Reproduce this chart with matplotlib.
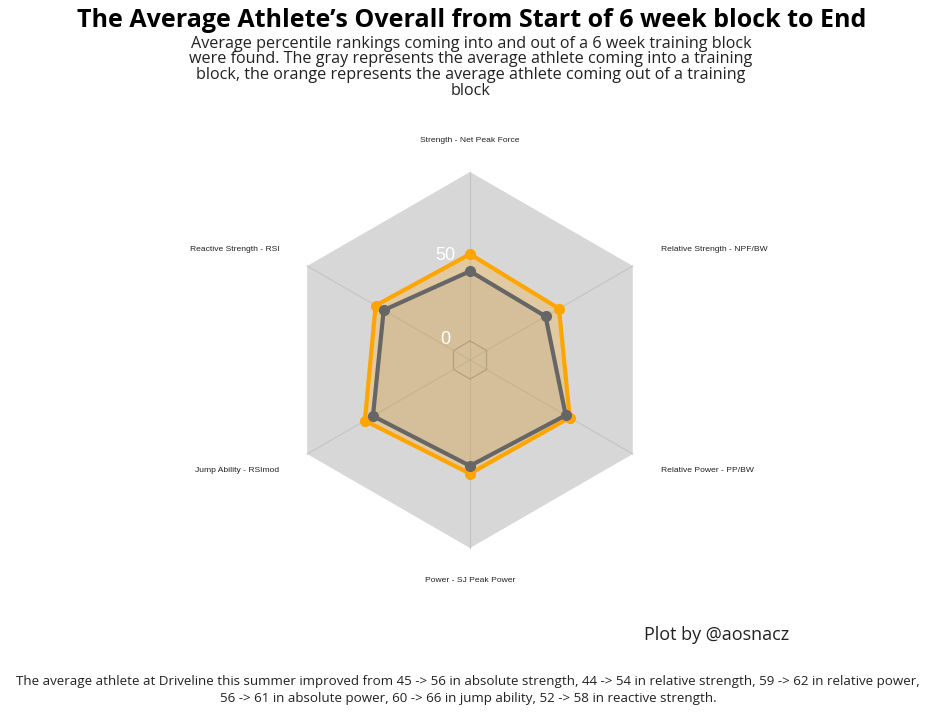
import matplotlib.pyplot as plt
import numpy as np

# data (percentiles)
categories = ['Strength - Net Peak Force', 'Relative Strength - NPF/BW',
              'Relative Power - PP/BW', 'Power - SJ Peak Power',
              'Jump Ability - RSImod', 'Reactive Strength - RSI']
before = [45, 44, 59, 56, 60, 52]
after = [56, 54, 62, 61, 66, 58]
grid_values = [0, 50]
grid_labels = ['0', '50']

# radar geometry (values shifted so 0 sits off-centre like ggradar)
offset = 12.3
outer = 109
s = 1.55  # px per unit
W, H = 938, 716
cx, cy = 470, 360

n = len(categories)
theta = np.arange(n) * 2 * np.pi / n


def to_xy(vals):
    r = np.asarray(vals, dtype=float) + offset
    x = r * np.sin(theta)
    y = r * np.cos(theta)
    return np.append(x, x[0]), np.append(y, y[0])


fig = plt.figure(figsize=(W / 100, H / 100), dpi=100)
ax = fig.add_axes([0, 0, 1, 1])
ax.set_xlim(-cx / s, (W - cx) / s)
ax.set_ylim(-(H - cy) / s, cy / s)
ax.set_aspect('equal')
ax.axis('off')

# background hexagon
bx, by = to_xy([outer] * n)
ax.fill(bx, by, color='#D7D7D7', zorder=1, lw=0)

# spokes
for t in theta:
    r = outer + offset
    ax.plot([0, r * np.sin(t)], [0, r * np.cos(t)], color='#C4C4C4', lw=0.8, zorder=2)

# gridline at 0
gx, gy = to_xy([grid_values[0]] * n)
ax.plot(gx, gy, color='#A8A8A8', lw=0.9, zorder=2)

# series
ox, oy = to_xy(after)
ax.fill(ox, oy, color='#FFA500', alpha=0.25, lw=0, zorder=3)
ax.plot(ox, oy, color='#FFA500', lw=3, zorder=5)
ax.plot(ox[:-1], oy[:-1], 'o', color='#FFA500', ms=7, zorder=5)

px, py = to_xy(before)
ax.fill(px, py, color='#666666', alpha=0.1, lw=0, zorder=4)
ax.plot(px, py, color='#666666', lw=3, zorder=6)
ax.plot(px[:-1], py[:-1], 'o', color='#666666', ms=7, zorder=6)

# grid value labels
for v, lab in zip(grid_values, grid_labels):
    ax.text(-25 / s, (v + offset) * 1.08, lab, color='white', fontsize=13,
            family='Liberation Sans', ha='center', va='center', zorder=7)

# axis labels
lab_r = 220 / s
for t, cat in zip(theta, categories):
    sx = np.sin(t)
    ha = 'center' if abs(sx) < 0.01 else ('left' if sx > 0 else 'right')
    ax.text(lab_r * sx, lab_r * np.cos(t), cat, fontsize=6.1,
            family='Liberation Sans', ha=ha, va='center', color='#222222')

fig.text(0.503, 0.972, "The Average Athlete’s Overall from Start of 6 week block to End",
         ha='center', va='center', fontsize=18, fontweight='bold', family='Open Sans')
fig.text(0.502, 0.906,
         "Average percentile rankings coming into and out of a 6 week training block\n"
         "were found. The gray represents the average athlete coming into a training\n"
         "block, the orange represents the average athlete coming out of a training\n"
         "block",
         ha='center', va='center', fontsize=11.6, family='Open Sans', linespacing=0.97,
         color='#222222')
fig.text(0.764, 0.113, "Plot by @aosnacz", ha='center', va='center', fontsize=13,
         family='Open Sans', color='#222222')
fig.text(0.499, 0.037,
         "The average athlete at Driveline this summer improved from 45 -> 56 in absolute strength, "
         "44 -> 54 in relative strength, 59 -> 62 in relative power,\n"
         "56 -> 61 in absolute power, 60 -> 66 in jump ability, 52 -> 58 in reactive strength.",
         ha='center', va='center', fontsize=9.6, family='Open Sans', linespacing=1.4,
         color='#222222')

fig.savefig('out.png', dpi=100)
